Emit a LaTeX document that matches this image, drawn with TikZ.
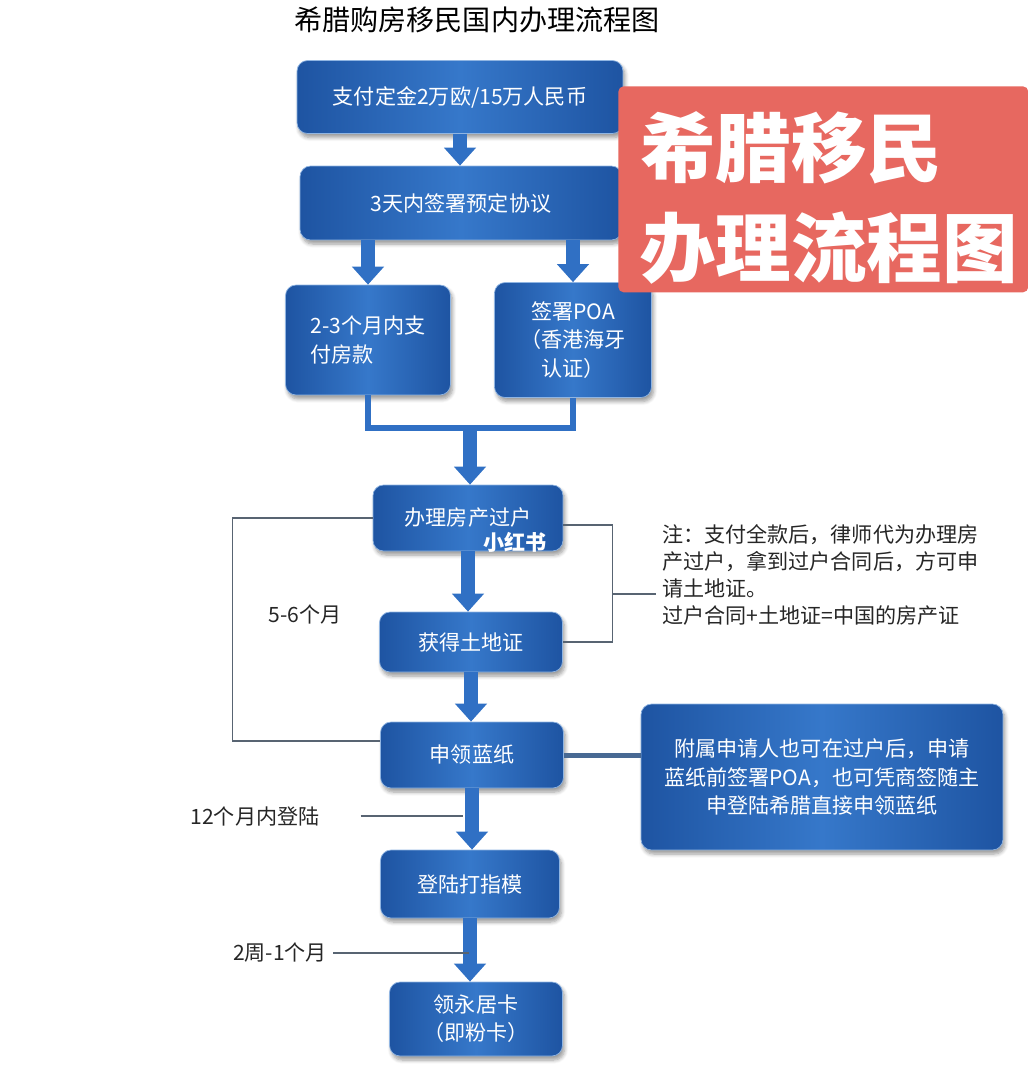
\documentclass[tikz,border=0pt]{standalone}
\usepackage{fontspec}
\setmainfont{Noto Sans CJK SC}
\usetikzlibrary{arrows.meta,shadows,shadows.blur,positioning,calc}
\definecolor{bxmid}{RGB}{54,120,202}
\definecolor{bxedge}{RGB}{30,84,162}
\definecolor{arw}{RGB}{48,112,196}
\definecolor{lnk}{RGB}{88,100,114}
\definecolor{banred}{RGB}{231,104,96}

\begin{document}
\begin{tikzpicture}[x=0.02cm, y=-0.02cm,
    >=Stealth,
    bx/.style={rounded corners=6pt, left color=bxedge, right color=bxedge, middle color=bxmid,
               draw=bxmid!55!white, line width=0.4pt, text=white, align=center,
               font=\fontsize{12}{16}\selectfont,
               blur shadow={shadow blur steps=6, shadow xshift=0.04cm, shadow yshift=-0.08cm, shadow opacity=40}},
    fat/.style={-{Triangle[width=0.62cm,length=0.36cm]}, line width=0.28cm, draw=arw},
    bar/.style={line width=0.12cm, draw=arw},
    thinln/.style={line width=0.9pt, draw=lnk},
    midln/.style={line width=0.1cm, draw=lnk!60!arw},
    lbl/.style={font=\fontsize{12}{15.4}\selectfont, text=black!85}
  ]
  \useasboundingbox (0,0) rectangle (1028,1072);

  \node[font=\fontsize{16}{16}\selectfont] (ttl) at (477,20) {希腊购房移民国内办理流程图};

  \node[bx, minimum width=6.52cm, minimum height=1.46cm] (pay)  at (460,97)  {支付定金2万欧/15万人民币};
  \node[bx, minimum width=6.44cm, minimum height=1.48cm] (sign) at (461,203) {3天内签署预定协议};
  \node[bx, minimum width=3.3cm,  minimum height=2.2cm, align=left] (fund) at (368,340) {2-3个月内支\\付房款};
  \node[bx, minimum width=3.14cm, minimum height=2.3cm] (poa)  at (573,340) {签署POA\\（香港海牙\\认证）};
  \node[bx, minimum width=3.8cm,  minimum height=1.32cm] (xfer) at (468,518) {办理房产过户};
  \node[bx, minimum width=3.66cm, minimum height=1.2cm]  (land) at (471,642) {获得土地证};
  \node[bx, minimum width=3.66cm, minimum height=1.32cm] (blue) at (472,755) {申领蓝纸};
  \node[bx, minimum width=7.24cm, minimum height=2.92cm] (dep)  at (822,777) {附属申请人也可在过户后，申请\\蓝纸前签署POA，也可凭商签随主\\申登陆希腊直接申领蓝纸};
  \node[bx, minimum width=3.58cm, minimum height=1.36cm] (fing) at (470,884) {登陆打指模};
  \node[bx, minimum width=3.46cm, minimum height=1.48cm] (card) at (476,1019) {领永居卡\\（即粉卡）};

  \node[font=\bfseries\fontsize{12}{12}\selectfont, text=white] (wm) at (515,542) {小红书};

  \node[lbl, anchor=north west, align=left] (nt) at (656,518) {注：支付全款后，律师代为办理房\\产过户，拿到过户合同后，方可申\\请土地证。\\过户合同+土地证=中国的房产证};
  \node[lbl] (m56) at (305,614) {5-6个月};
  \node[lbl] (m12) at (255,816) {12个月内登陆};
  \node[lbl] (w2)  at (280,953) {2周-1个月};

  \draw[fat] (pay.south) -- (pay.south |- sign.north);
  \draw[fat] (sign.south -| fund) -- (fund.north);
  \draw[fat] (sign.south -| poa) -- (poa.north);
  \draw[bar] (fund.south) -- ++(0,33) -| (poa.south);
  \coordinate (join) at (470,428);
  \draw[fat] (join) -- (join |- xfer.north);
  \draw[fat] (xfer.south) -- (xfer.south |- land.north);
  \draw[fat] (land.south) -- (land.south |- blue.north);
  \draw[fat] (blue.south) -- (blue.south |- fing.north);
  \draw[fat] (fing.south) -- (fing.south |- card.north);

  \draw[thinln] (xfer.west) -- ++(-140,0) |- ([yshift=0.28cm]blue.west);
  \draw[thinln] ([yshift=-0.14cm]xfer.east) -- ++(49,0) |- (land.east);
  \coordinate (rj) at (612,594);
  \draw[thinln] (rj) -- (rj -| nt.west);
  \draw[midln] (blue.east) -- (blue.east -| dep.west);
  \draw[thinln] ([xshift=0.7cm]m12.east) -- ([xshift=-0.14cm]m12.east -| fing.north);
  \draw[thinln] (w2.east) -- ([xshift=-0.14cm]w2.east -| card.north);

  \node[fill=banred, rounded corners=3pt, minimum width=8.2cm, minimum height=4.12cm, anchor=north west, inner sep=0pt] (ban) at (618,86) {};
  \node[anchor=west, text=white, align=left, font=\bfseries\fontsize{43}{57}\selectfont] (bantxt) at (634,198) {希腊移民\\办理流程图};
\end{tikzpicture}
\end{document}
